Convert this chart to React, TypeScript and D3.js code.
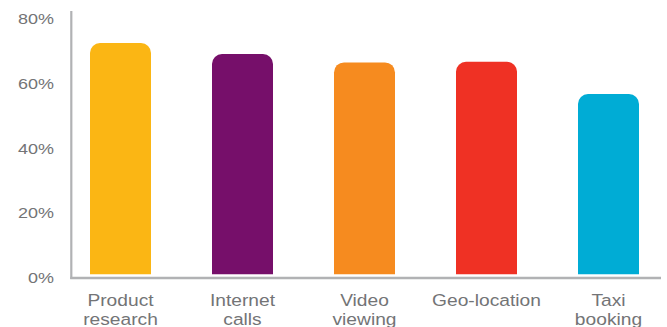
import React from "react";
import * as d3 from "d3";

const categories: string[][] = [
  ["Product", "research"],
  ["Internet", "calls"],
  ["Video", "viewing"],
  ["Geo-location"],
  ["Taxi", "booking"],
];
const values: number[] = [72.6, 69.2, 66.6, 66.8, 56.8];
const colors: string[] = ["#FBB614", "#760F6A", "#F68B1F", "#EF3124", "#00ACD5"];
const tickValues: number[] = [0, 20, 40, 60, 80];

const W = 667;
const H = 327;

function topRoundedBar(x: number, y: number, w: number, h: number, r: number): string {
  const rr = Math.min(r, w / 2, h);
  const p = d3.path();
  p.moveTo(x, y + h);
  p.lineTo(x, y + rr);
  p.arcTo(x, y, x + rr, y, rr);
  p.lineTo(x + w - rr, y);
  p.arcTo(x + w, y, x + w, y + rr, rr);
  p.lineTo(x + w, y + h);
  p.closePath();
  return p.toString();
}

export default function App() {
  const x = d3
    .scaleBand<number>()
    .domain(d3.range(categories.length))
    .range([59.5, 669.5])
    .paddingInner(0.5)
    .paddingOuter(0.25);
  const y = d3.scaleLinear().domain([0, 80]).range([278, 19]);
  const baseline = 274.3;
  const textColor = "#737476";
  const axisColor = "#b1b2b4";

  return (
    <svg
      width={W}
      height={H}
      style={{ position: "absolute", left: 0, top: 0, background: "#fff" }}
      fontFamily="'Liberation Sans', Arial, Helvetica, sans-serif"
    >
      {/* bars */}
      {values.map((v, i) => (
        <path
          key={i}
          d={topRoundedBar(x(i)!, y(v), x.bandwidth(), baseline - y(v), 10)}
          fill={colors[i]}
        />
      ))}
      {/* axes */}
      <line x1={71.3} x2={71.3} y1={11} y2={279} stroke={axisColor} strokeWidth={2.2} />
      <line x1={70.2} x2={661} y1={278} y2={278} stroke={axisColor} strokeWidth={2.6} />
      {/* y tick labels */}
      {tickValues.map((t) => (
        <text
          key={t}
          transform={`translate(54,${y(t)}) scale(1.24,1)`}
          textAnchor="end"
          dy="0.36em"
          fontSize={14.5}
          fill={textColor}
        >
          {`${t}%`}
        </text>
      ))}
      {/* category labels */}
      {categories.map((lines, i) => (
        <g key={i} transform={`translate(${x(i)! + x.bandwidth() / 2},0)`}>
          {lines.map((ln, j) => (
            <text
              key={j}
              transform={`translate(0,${305.6 + j * 19.6}) scale(1.13,1)`}
              textAnchor="middle"
              fontSize={17}
              fill={textColor}
            >
              {ln}
            </text>
          ))}
        </g>
      ))}
    </svg>
  );
}
